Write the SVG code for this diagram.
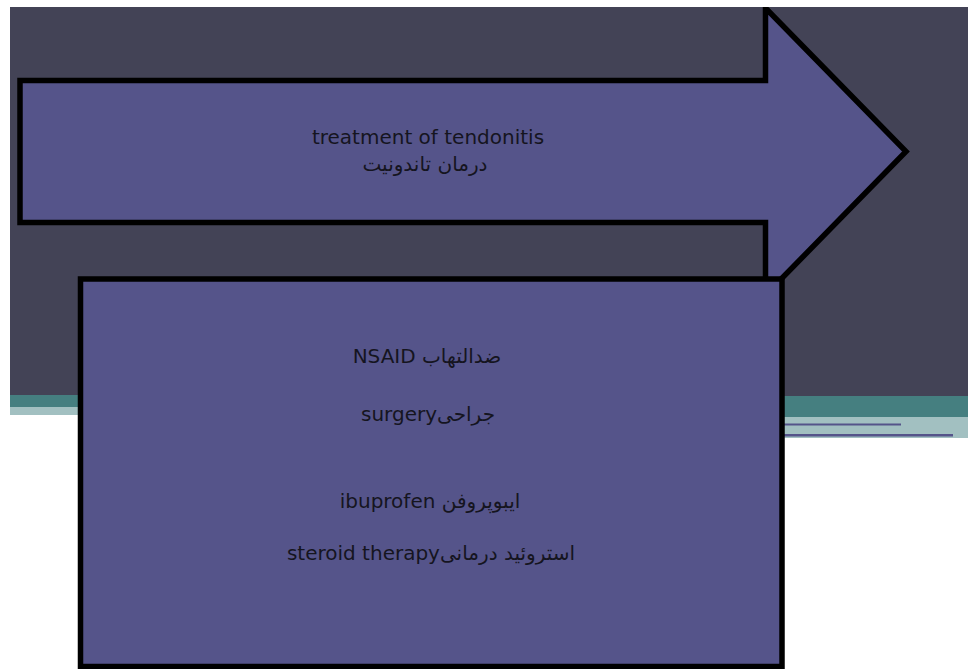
<svg xmlns="http://www.w3.org/2000/svg" width="968" height="669" viewBox="0 0 968 669">
<style>
.shape{fill:#55548a;stroke:#000;stroke-width:5.5;stroke-linejoin:miter;stroke-miterlimit:10}
.t{font-family:"DejaVu Sans","Noto Sans",sans-serif;font-size:20px;fill:#15151f;text-anchor:middle}
</style>
<defs>
<clipPath id="page"><rect x="10" y="7" width="958" height="662"/></clipPath>
</defs>
<rect x="0" y="0" width="968" height="669" fill="#ffffff"/>
<g id="background">
<rect x="10" y="7" width="958" height="389" fill="#434356"/>
<rect x="10" y="395" width="80" height="12" fill="#457f80"/>
<rect x="10" y="407" width="80" height="8" fill="#a2c0c1"/>
<rect x="780" y="396" width="188" height="21" fill="#457f80"/>
<rect x="780" y="417" width="188" height="21" fill="#a2c0c1"/>
<rect x="783" y="423.5" width="118" height="2" fill="#55548a"/>
<rect x="783" y="434" width="170" height="2.5" fill="#55548a"/>
</g>
<g id="arrow" clip-path="url(#page)">
<path class="shape" d="M20,80.5 H765.5 V8 L906,151.5 L765.5,295 V222.5 H20 Z"/>
<text class="t" x="428" y="144">treatment of tendonitis</text>
<text class="t" x="425" y="171">درمان تاندونیت</text>
</g>
<g id="box" clip-path="url(#page)">
<rect class="shape" x="80.5" y="279" width="701.5" height="387.5"/>
<text class="t" x="427" y="363">NSAID ضدالتهاب</text>
<text class="t" x="428" y="421">surgeryجراحی</text>
<text class="t" x="430" y="508">ibuprofen ایبوپروفن</text>
<text class="t" x="431" y="560">steroid therapyاستروئید درمانی</text>
</g>
</svg>
